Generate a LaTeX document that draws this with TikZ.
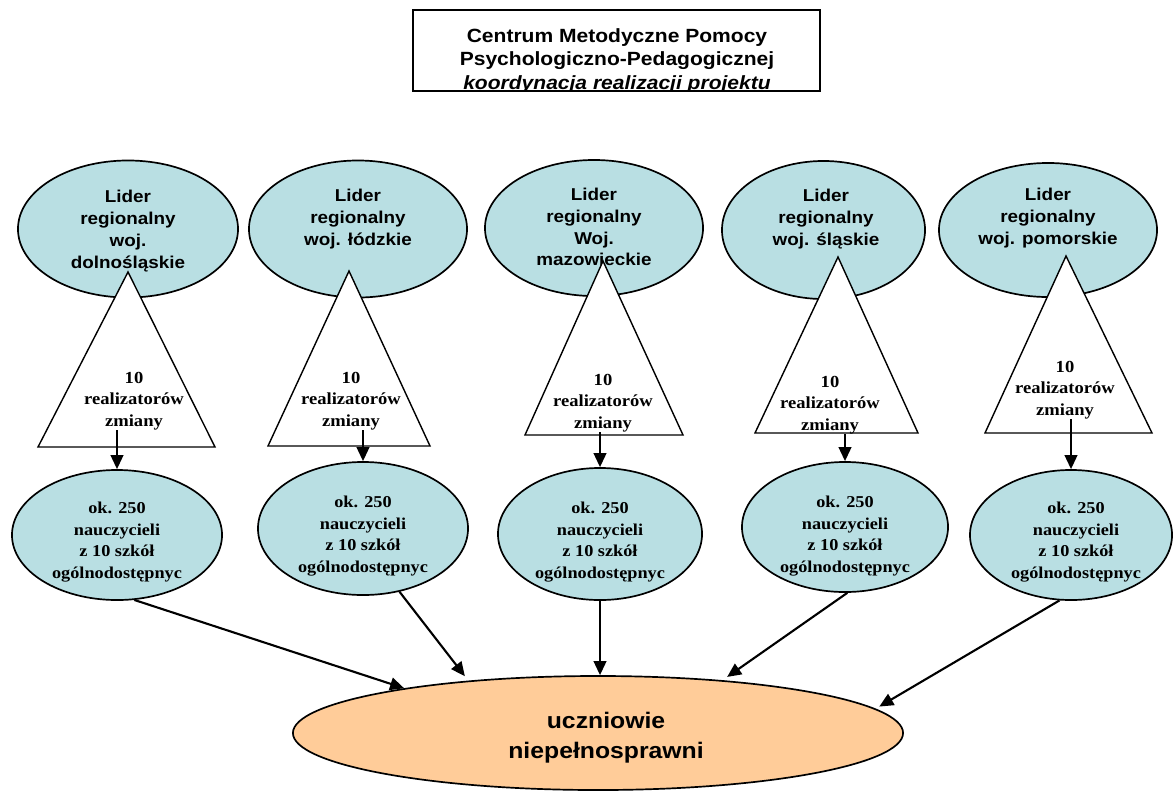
\documentclass[tikz,border=0pt]{standalone}
\usepackage{fontspec}
\setmainfont{Liberation Serif}[FakeStretch=1.1]
\setsansfont{Liberation Sans}[FakeStretch=1.1]
\usetikzlibrary{arrows.meta,shapes.geometric}
\definecolor{liderblue}{RGB}{185,223,227}
\definecolor{pupilorange}{RGB}{255,204,153}

\begin{document}
\begin{tikzpicture}[x=0.025cm, y=-0.025cm,
  blob/.style={ellipse, draw=black, line width=1.2pt, fill=liderblue, inner sep=0pt},
  tri/.style={draw=black, line width=1pt, fill=white, line join=miter},
  arr/.style={-{Triangle[length=10pt,width=9pt]}, line width=1.5pt},
  titletext/.style={font=\sffamily\bfseries\fontsize{13.6}{17}\selectfont, align=center, inner sep=0pt},
  lidertext/.style={font=\sffamily\bfseries\fontsize{12.2}{15.5}\selectfont, align=center, inner sep=0pt},
  realtext/.style={font=\rmfamily\bfseries\fontsize{12}{15.3}\selectfont, align=center, inner sep=0pt},
  teachtext/.style={font=\rmfamily\bfseries\fontsize{11.8}{15.3}\selectfont, align=center, inner sep=0pt}]
  \useasboundingbox (0,0) rectangle (1176,791);

  % Title box (text cut off by the frame)
  \node[draw=black, line width=1pt, minimum width=10.175cm, minimum height=2.025cm, inner sep=0pt] (cmppp) at (616.5,50.5) {};
  \begin{scope}
    \clip (cmppp.south west) rectangle (cmppp.north east);
    \node[titletext] (cmtxt) at (617,61) {Centrum Metodyczne Pomocy\\Psychologiczno-Pedagogicznej\\\textit{koordynacja realizacji projektu}};
  \end{scope}

  % Regional leaders
  \node[blob, minimum width=5.5cm, minimum height=3.425cm] (e1) at (128,229) {};
  \node[blob, minimum width=5.45cm, minimum height=3.425cm] (e2) at (358,229) {};
  \node[blob, minimum width=5.45cm, minimum height=3.4cm] (e3) at (594,228) {};
  \node[blob, minimum width=5.075cm, minimum height=3.45cm] (e4) at (823.5,230) {};
  \node[blob, minimum width=5.45cm, minimum height=3.35cm] (e5) at (1048,230) {};

  \node[lidertext] (l1) at (128,231) {Lider\\regionalny\\woj.\\dolnośląskie};
  \node[lidertext] (l2) at (358,219) {Lider\\regionalny\\woj. łódzkie};
  \node[lidertext] (l3) at (594,227) {Lider\\regionalny\\Woj.\\mazowieckie};
  \node[lidertext] (l4) at (826,219) {Lider\\regionalny\\woj. śląskie};
  \node[lidertext] (l5) at (1048,218) {Lider\\regionalny\\woj. pomorskie};

  % Triangles: 10 realizatorow zmiany
  \draw[tri] (128,272) -- (215,447) -- (38,447) -- cycle;
  \draw[tri] (349,271) -- (430,446) -- (268,446) -- cycle;
  \draw[tri] (603,261) -- (683,435) -- (525,435) -- cycle;
  \draw[tri] (838,257) -- (918,433) -- (755,433) -- cycle;
  \draw[tri] (1066,256) -- (1152,433) -- (985,433) -- cycle;

  \node[realtext] (r1) at (134,401) {10\\realizatorów\\zmiany};
  \node[realtext] (r2) at (351,401) {10\\realizatorów\\zmiany};
  \node[realtext] (r3) at (603,403) {10\\realizatorów\\zmiany};
  \node[realtext] (r4) at (830,405) {10\\realizatorów\\zmiany};
  \node[realtext] (r5) at (1065,390) {10\\realizatorów\\zmiany};

  % Teachers
  \node[blob, minimum width=5.25cm, minimum height=3.25cm] (n1) at (117,535) {};
  \node[blob, minimum width=5.25cm, minimum height=3.325cm] (n2) at (363,528.5) {};
  \node[blob, minimum width=5.1cm, minimum height=3.3cm] (n3) at (600,534) {};
  \node[blob, minimum width=5.15cm, minimum height=3.25cm] (n4) at (845,527) {};
  \node[blob, minimum width=5.05cm, minimum height=3.25cm] (n5) at (1071,535) {};

  \node[teachtext] (m1) at (117,542) {ok. 250\\nauczycieli\\z 10 szkół\\ogólnodostępnyc};
  \node[teachtext] (m2) at (363,536) {ok. 250\\nauczycieli\\z 10 szkół\\ogólnodostępnyc};
  \node[teachtext] (m3) at (600,542) {ok. 250\\nauczycieli\\z 10 szkół\\ogólnodostępnyc};
  \node[teachtext] (m4) at (845,536) {ok. 250\\nauczycieli\\z 10 szkół\\ogólnodostępnyc};
  \node[teachtext] (m5) at (1076,542) {ok. 250\\nauczycieli\\z 10 szkół\\ogólnodostępnyc};

  \draw[arr] (r1.south -| n1.north) -- (n1.north);
  \draw[arr] (r2.south -| n2.north) -- (n2.north);
  \draw[arr] (r3.south -| n3.north) -- (n3.north);
  \draw[arr] (r4.south -| n4.north) -- (n4.north);
  \draw[arr] (r5.south -| n5.north) -- (n5.north);

  % Pupils
  \node[ellipse, draw=black, line width=1.2pt, fill=pupilorange, minimum width=15.25cm, minimum height=2.85cm, inner sep=0pt] (u) at (598,733) {};
  \node[font=\sffamily\bfseries\fontsize{16}{21.3}\selectfont, align=center, inner sep=0pt] (utxt) at (606,738) {uczniowie\\niepełnosprawni};

  \draw[arr] (n1.-75) -- (u.167.6);
  \draw[arr, shorten >=4pt] (n2.-60) -- (u.158.7);
  \draw[arr] (n3.south) -- (n3.south |- u.north);
  \draw[arr, shorten >=4pt] (n4.-88) -- (u.23.6);
  \draw[arr, shorten >=3pt] (n5.-100) -- (u.5.8);
\end{tikzpicture}
\end{document}
